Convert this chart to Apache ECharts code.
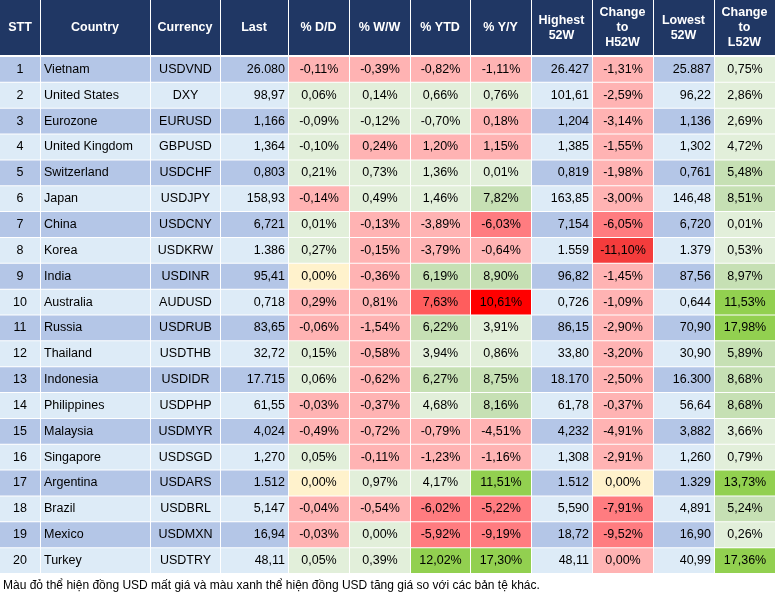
<!DOCTYPE html>
<html><head><meta charset="utf-8">
<script src="https://cdn.jsdelivr.net/npm/echarts@6/dist/echarts.min.js"></script>
<style>html,body{margin:0;padding:0;background:#fff}#c{width:777px;height:602px}</style>
</head><body><div id="c"></div>
<script>
const headers = ["STT","Country","Currency","Last","% D/D","% W/W","% YTD","% Y/Y","Highest\n52W","Change\nto\nH52W","Lowest\n52W","Change\nto\nL52W"];
const countries = ["Vietnam","United States","Eurozone","United Kingdom","Switzerland","Japan","China","Korea","India","Australia","Russia","Thailand","Indonesia","Philippines","Malaysia","Singapore","Argentina","Brazil","Mexico","Turkey"];
const currencies = ["USDVND","DXY","EURUSD","GBPUSD","USDCHF","USDJPY","USDCNY","USDKRW","USDINR","AUDUSD","USDRUB","USDTHB","USDIDR","USDPHP","USDMYR","USDSGD","USDARS","USDBRL","USDMXN","USDTRY"];
const last = ["26.080","98,97","1,166","1,364","0,803","158,93","6,721","1.386","95,41","0,718","83,65","32,72","17.715","61,55","4,024","1,270","1.512","5,147","16,94","48,11"];
const dd = ["-0,11%","0,06%","-0,09%","-0,10%","0,21%","-0,14%","0,01%","0,27%","0,00%","0,29%","-0,06%","0,15%","0,06%","-0,03%","-0,49%","0,05%","0,00%","-0,04%","-0,03%","0,05%"];
const ww = ["-0,39%","0,14%","-0,12%","0,24%","0,73%","0,49%","-0,13%","-0,15%","-0,36%","0,81%","-1,54%","-0,58%","-0,62%","-0,37%","-0,72%","-0,11%","0,97%","-0,54%","0,00%","0,39%"];
const ytd = ["-0,82%","0,66%","-0,70%","1,20%","1,36%","1,46%","-3,89%","-3,79%","6,19%","7,63%","6,22%","3,94%","6,27%","4,68%","-0,79%","-1,23%","4,17%","-6,02%","-5,92%","12,02%"];
const yy = ["-1,11%","0,76%","0,18%","1,15%","0,01%","7,82%","-6,03%","-0,64%","8,90%","10,61%","3,91%","0,86%","8,75%","8,16%","-4,51%","-1,16%","11,51%","-5,22%","-9,19%","17,30%"];
const high52 = ["26.427","101,61","1,204","1,385","0,819","163,85","7,154","1.559","96,82","0,726","86,15","33,80","18.170","61,78","4,232","1,308","1.512","5,590","18,72","48,11"];
const chgH = ["-1,31%","-2,59%","-3,14%","-1,55%","-1,98%","-3,00%","-6,05%","-11,10%","-1,45%","-1,09%","-2,90%","-3,20%","-2,50%","-0,37%","-4,91%","-2,91%","0,00%","-7,91%","-9,52%","0,00%"];
const low52 = ["25.887","96,22","1,136","1,302","0,761","146,48","6,720","1.379","87,56","0,644","70,90","30,90","16.300","56,64","3,882","1,260","1.329","4,891","16,90","40,99"];
const chgL = ["0,75%","2,86%","2,69%","4,72%","5,48%","8,51%","0,01%","0,53%","8,97%","11,53%","17,98%","5,89%","8,68%","8,68%","3,66%","0,79%","13,73%","5,24%","0,26%","17,36%"];
// colour classes for D/D, W/W, YTD, Y/Y, ChgH, ChgL
const colorCodes = ["r1 r1 r1 r1 r1 g1","g1 g1 g1 g1 r1 g1","g1 g1 g1 r1 r1 g1","g1 r1 r1 r1 r1 g1","g1 g1 g1 g1 r1 g2","r1 g1 g1 g2 r1 g2","g1 r1 r1 r2 r2 g1","g1 r1 r1 r1 r3 g1","y r1 g2 g2 r1 g2","r1 r1 r5 r4 r1 g3","r1 r1 g2 g1 r1 g3","g1 r1 g1 g1 r1 g2","g1 r1 g2 g2 r1 g2","r1 r1 g1 g2 r1 g2","r1 r1 r1 r1 r1 g1","g1 r1 r1 r1 r1 g1","y g1 g1 g3 y g3","r1 r1 r2 r2 r2 g2","r1 g1 r2 r2 r2 g1","g1 g1 g3 g3 r1 g3"];
const footer = "Màu đỏ thể hiện đồng USD mất giá và màu xanh thể hiện đồng USD tăng giá so với các bản tệ khác.";

const palette = {r1:"#ffb3b3",r2:"#ff7c80",r3:"#f43c3c",r4:"#ff0000",r5:"#ff5d5d",g1:"#e2efda",g2:"#c6e0b4",g3:"#92d050",y:"#fff2cc"};
const edges = [0,40,150,220,288,349,410,470,531,592,653,714,775];
const aligns = ["center","left","center","right","center","center","center","center","right","center","right","center"];
const colorCols = {4:0,5:1,6:2,7:3,9:4,11:5};
const cols = [countries.map((_,i)=>String(i+1)),countries,currencies,last,dd,ww,ytd,yy,high52,chgH,low52,chgL];
const data = [];
for (let r=0;r<countries.length;r++) for (let c=0;c<cols.length;c++) data.push([c, r, cols[c][r]]);

function textX(c, x0, x1){ const a=aligns[c]; return a==="left"?x0+3:a==="right"?x1-3:(x0+x1)/2; }

const chart = echarts.init(document.getElementById('c'));
chart.setOption({
  animation:false,
  grid:{left:0,top:56,width:775,height:517},
  xAxis:{type:'value',min:0,max:775,show:false},
  yAxis:{type:'category',inverse:true,data:countries.map((_,i)=>i),show:false},
  graphic: headers.map((h,c)=>({type:'group',children:[
     {type:'rect',shape:{x:edges[c]+(c?1:0),y:0,width:edges[c+1]-edges[c]-(c?1:0),height:55},style:{fill:'#203764'}},
     {type:'text',style:{x:(edges[c]+edges[c+1])/2,y:28,text:h,fill:'#fff',font:'bold 12.5px "Liberation Sans", Arial',align:'center',verticalAlign:'middle',lineHeight:15}}
  ]})).concat([{type:'text',style:{x:3,y:586,text:footer,fill:'#000',font:'12px "Liberation Sans", Arial',verticalAlign:'middle'}}]),
  series:[{type:'custom',data:data,encode:{x:0,y:1},renderItem:function(params,api){
    const c=api.value(0), r=api.value(1);
    const yc=api.coord([0,r])[1], h=api.size([0,1])[1];
    const x0=edges[c]+(c?1:0), x1=edges[c+1];
    let fill = (r%2===0)?"#b4c6e7":"#ddebf7";
    if (c in colorCols) fill = palette[colorCodes[r].split(' ')[colorCols[c]]];
    return {type:'group',children:[
      {type:'rect',shape:{x:x0,y:yc-h/2+1,width:x1-x0,height:h-1},style:{fill:fill}},
      {type:'text',style:{x:textX(c,x0,x1),y:yc+0.5,text:cols[c][r],fill:'#000',font:'12.5px "Liberation Sans", Arial',align:aligns[c],verticalAlign:'middle'}}
    ]};
  }}]
});
</script></body></html>
